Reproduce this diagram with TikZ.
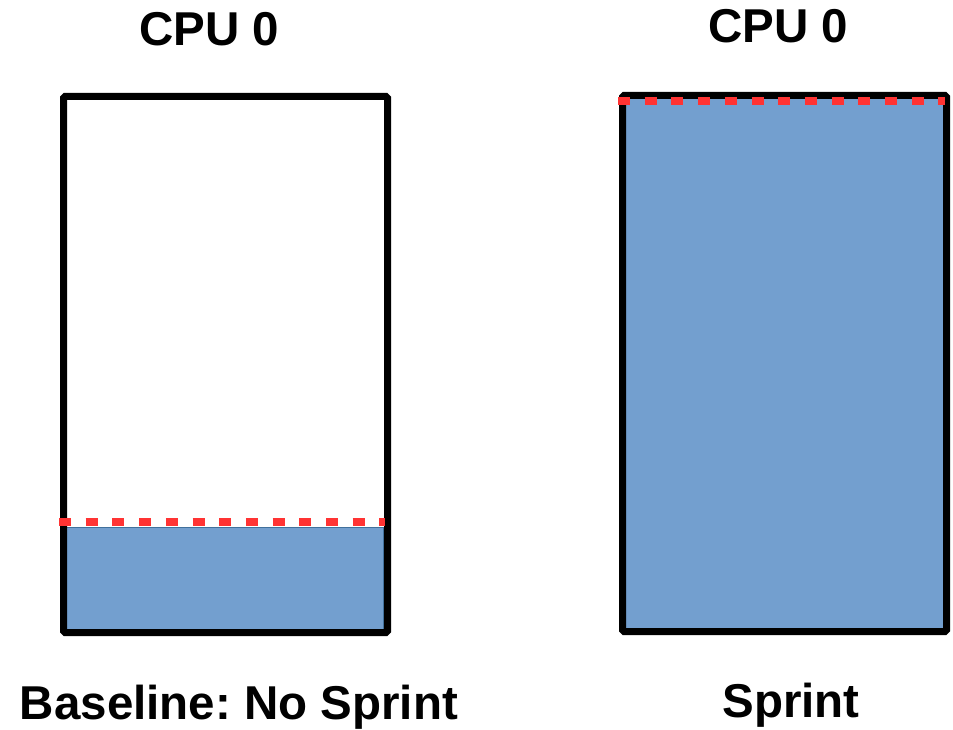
\documentclass[tikz,border=0pt]{standalone}
\usepackage{fontspec}
\setmainfont{Liberation Sans}
\usepackage{xcolor}
\usepackage{tikz}
\usetikzlibrary{positioning, calc}

\definecolor{loadblue}{RGB}{115,159,207}
\definecolor{loadedge}{RGB}{65,113,156}
\definecolor{limitred}{RGB}{255,51,51}

\frenchspacing

\begin{document}
\begin{tikzpicture}[
    x=1pt, y=-1pt,
    cpubox/.style={
        rectangle, draw=black, line width=7pt, rounded corners=1.5pt,
        minimum width=324pt, minimum height=536pt, inner sep=0pt,
        anchor=north west
    },
    load/.style={
        rectangle, fill=loadblue, draw=loadedge, line width=1pt,
        inner sep=0pt, anchor=north west
    },
    limit/.style={draw=limitred, line width=8pt, dash pattern=on 12pt off 14.7pt},
    title/.style={font=\fontsize{47.5}{57}\selectfont\bfseries, anchor=base, inner sep=0pt}
]
    \useasboundingbox (0,0) rectangle (953,730);

    % baseline: little load
    \node[load, minimum width=321pt, minimum height=102pt] (baseload) at (62,527) {};
    \node[cpubox] (basecpu) at (60,93) {};
    \coordinate (baselimitL) at (59,522);
    \coordinate (baselimitR) at (385,522);
    \draw[limit] (baselimitL) -- (baselimitR);

    % sprint: full load
    \node[cpubox, fill=loadblue] (sprintcpu) at (619,92) {};
    \coordinate (sprintlimitL) at (618,101);
    \coordinate (sprintlimitR) at (945,101);
    \draw[limit] (sprintlimitL) -- (sprintlimitR);

    \node[title] (basetitle) at (209,46) {CPU 0};
    \node[title] (sprinttitle) at (778,43) {CPU 0};
    \node[title] (baselabel) at (239,719) {Baseline: No Sprint};
    \node[title] (sprintlabel) at (791,717) {Sprint};
\end{tikzpicture}
\end{document}
